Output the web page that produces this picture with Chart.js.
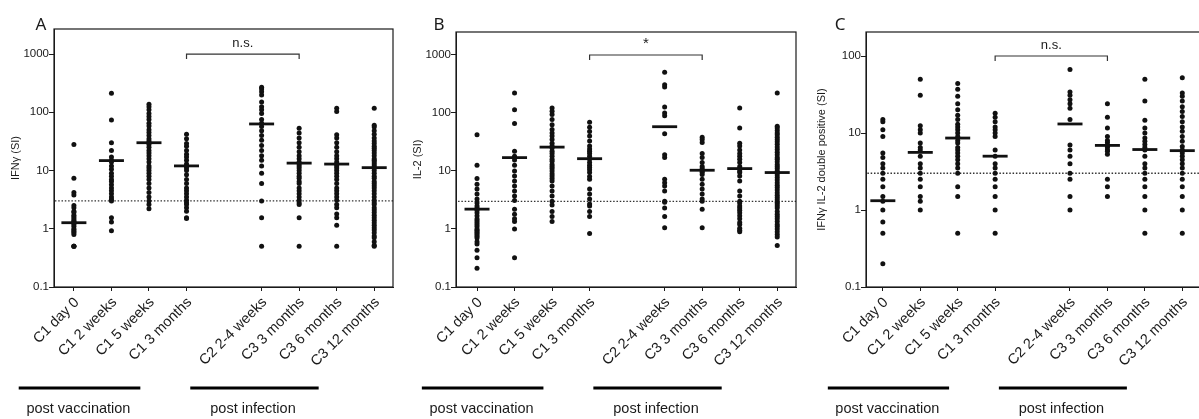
<!DOCTYPE html>
<html>
<head>
<meta charset="utf-8">
<script src="https://cdn.jsdelivr.net/npm/chart.js@4.4.1/dist/chart.umd.min.js"></script>
<style>
html, body { margin: 0; padding: 0; background: #fff; overflow: hidden; width: 1199px; height: 419px; }
canvas { position: absolute; top: 0; }
</style>
</head>
<body>
<canvas id="panelA" width="400" height="419" style="left:0px"></canvas>
<canvas id="panelB" width="400" height="419" style="left:400px"></canvas>
<canvas id="panelC" width="410" height="419" style="left:800px"></canvas>
<script>
// time points, the same on all three panels
const categories = ['C1 day 0', 'C1 2 weeks', 'C1 5 weeks', 'C1 3 months',
  'C2 2-4 weeks', 'C3 3 months', 'C3 6 months', 'C3 12 months'];

// A - IFNg (SI)
const ifngValues = [
  [28, 7.4, 4.2, 3.8, 2.5, 2.3, 2.0, 1.9, 1.7, 1.6, 1.5, 1.4, 1.3, 1.3, 1.2, 1.1, 1.0, 0.95, 0.9, 0.85, 0.8, 0.5, 0.5, 0.5],
  [212, 74, 30, 22, 17, 15, 14, 12, 10.5, 9, 8, 7, 6.5, 5.7, 5, 4.5, 4, 3.5, 3.2, 3.0, 1.55, 1.3, 0.92],
  [137, 125, 110, 95, 85, 75, 65, 58, 50, 45, 40, 35, 32, 30, 28, 25, 22, 20, 18, 16, 14, 12, 11, 10, 9, 8, 7, 6, 5, 4.2, 3.5, 3.0, 2.6, 2.2],
  [42, 35, 29, 26, 22, 19, 17, 15, 13, 12, 11, 10, 8.5, 7, 6, 5, 4.5, 4, 3.5, 3.1, 2.8, 2.6, 2.3, 2.0, 1.55, 1.5],
  [268, 250, 225, 198, 150, 125, 110, 95, 75, 65, 57, 48, 40, 33, 27, 22, 18, 15, 12, 9, 6, 3.0, 1.55, 0.5],
  [53, 44, 36, 30, 25, 21, 18, 16, 14, 13, 12, 11, 10, 9, 8, 7.4, 6.5, 6, 5, 4.5, 4, 3.5, 3.1, 2.8, 2.6, 1.55, 0.5],
  [117, 103, 41, 36, 30, 25, 21, 18, 16, 14, 13, 12, 11, 10, 9, 8, 7, 6, 5, 4.5, 4, 3.5, 3.1, 2.6, 2.3, 1.8, 1.55, 1.15, 0.5],
  [117, 60, 56, 48, 42, 36, 32, 29, 26, 24, 22, 20, 18, 16, 15, 14, 13, 12, 11, 10, 9, 8, 7.4, 6.5, 6, 5.5, 5, 4.5, 4, 3.5, 3.1, 2.8, 2.6, 2.3, 2.1, 1.9, 1.7, 1.55, 1.4, 1.27, 1.15, 1.04, 0.95, 0.85, 0.75, 0.7, 0.6, 0.52, 0.5]
];
const ifngMedians = [1.27, 14.8, 30, 12, 63, 13.4, 12.9, 11.2];

// B - IL-2 (SI)
const il2Values = [
  [42, 12.5, 7.4, 5.9, 4.9, 4.0, 3.3, 2.8, 2.5, 2.3, 2.1, 1.9, 1.7, 1.5, 1.4, 1.3, 1.2, 1.1, 1.0, 0.95, 0.9, 0.85, 0.8, 0.75, 0.7, 0.6, 0.55, 0.43, 0.32, 0.21],
  [220, 114, 66, 22, 18, 15.5, 12.5, 10, 8.2, 6.7, 5.5, 4.5, 3.7, 3.1, 2.2, 1.8, 1.5, 1.35, 1.0, 0.32],
  [122, 107, 94, 77, 63, 52, 45, 40, 35, 30, 27, 25, 22, 20, 18, 16, 14.7, 13, 12, 11, 10, 9, 8.2, 7.4, 6.7, 5.5, 4.5, 3.7, 3.0, 2.6, 2.0, 1.65, 1.35],
  [69, 57, 48, 40, 33, 27, 24, 22, 20, 18, 16, 14, 12.5, 11.5, 10.5, 9.4, 8, 7.2, 4.9, 4.0, 3.3, 2.7, 2.5, 2.0, 1.65, 0.84],
  [505, 306, 280, 127, 100, 90, 44, 19, 17, 7.2, 6.3, 5.5, 4.5, 3.0, 2.9, 2.3, 1.65, 1.05],
  [38, 35, 31, 20, 17, 14, 12, 11, 10, 9.5, 8.7, 7.2, 5.9, 4.9, 4.0, 3.3, 3.0, 2.2, 1.05],
  [122, 55, 30, 27, 23, 20, 18, 16, 14, 12, 11, 10, 9.4, 8.2, 6.7, 4.5, 3.7, 3.0, 2.8, 2.5, 2.3, 2.1, 1.9, 1.7, 1.5, 1.3, 1.2, 1.03, 0.95, 0.9],
  [220, 59, 55, 50, 45, 42, 38, 35, 32, 29, 26, 23.5, 21, 19, 17, 16, 14.5, 13, 12, 11, 10, 9.4, 8.5, 7.7, 7, 6.3, 5.7, 5.2, 4.7, 4.2, 3.8, 3.5, 3.2, 2.9, 2.7, 2.5, 2.3, 2.0, 1.8, 1.65, 1.5, 1.35, 1.2, 1.1, 1.0, 0.9, 0.8, 0.73, 0.52]
];
const il2Medians = [2.2, 17, 25.8, 16.3, 58, 10.3, 11, 9.4];

// C - IFNg / IL-2 double positive (SI)
const dpValues = [
  [15, 14, 11, 9, 5.5, 4.8, 4, 3.5, 3, 2.5, 2, 1.5, 1.3, 1, 0.7, 0.5, 0.2],
  [50, 31, 12.4, 11, 10, 7.4, 6.5, 6, 5, 4, 3.5, 3, 2.5, 2, 1.5, 1.3, 1.0],
  [44, 37, 30, 24, 20, 17, 15, 13, 12, 11, 10, 9, 8, 7.4, 6.5, 6, 5.5, 5, 4.5, 4, 3.5, 3, 2, 1.5, 0.5],
  [18, 16, 14, 12, 11, 10, 9, 6, 5, 4, 3.5, 3, 2.5, 2, 1.5, 1.0, 0.5],
  [67, 34, 31, 27, 24, 21, 15, 7, 6, 5, 4, 3, 2.5, 1.5, 1.0],
  [24, 16, 11.6, 9, 8, 7.5, 7, 6.8, 6.5, 6, 5.8, 5.3, 2.5, 2, 1.5],
  [50, 26, 14.6, 11.6, 10, 8.6, 7.8, 7.1, 6.5, 6, 5, 4, 3.5, 3, 2.5, 2, 1.5, 1, 0.5],
  [52, 33, 30, 26, 22, 19, 16.4, 14, 12, 10.5, 9, 7.8, 6.7, 6, 5.5, 5, 4.5, 4, 3.5, 3, 2.5, 2, 1.5, 1, 0.5]
];
const dpMedians = [1.32, 5.6, 8.6, 5.0, 13.1, 6.9, 6.1, 5.9];

const yTicksWide = [0.1, 1, 10, 100, 1000];
const yTicksNarrow = [0.1, 1, 10, 100];
const cutoff = 3;

const FONT = '"Liberation Sans", Arial, sans-serif';
const INK = '#1a1a1a';

// empty slot between vaccination and infection time points
const xPos = i => (i < 4 ? i : i + 1);

const decor = {
  id: 'decor',
  afterDraw(chart, args, o) {
    const ctx = chart.ctx, ca = chart.chartArea;
    const xs = chart.scales.x, ys = chart.scales.y;
    ctx.save();
    // frame
    ctx.strokeStyle = INK;
    ctx.lineWidth = 1.2;
    ctx.strokeRect(ca.left, ca.top, ca.right - ca.left, ca.bottom - ca.top);
    // panel letter
    ctx.fillStyle = INK;
    ctx.font = '17px "Noto Sans", sans-serif';
    ctx.textAlign = 'center';
    ctx.textBaseline = 'middle';
    ctx.fillText(o.letter, o.letterX, 25);
    // significance bracket
    const b = o.bracket;
    const x1 = xs.getPixelForValue(xPos(b.from));
    const x2 = xs.getPixelForValue(xPos(b.to));
    const by = ys.getPixelForValue(b.level);
    ctx.strokeStyle = '#333';
    ctx.lineWidth = 1.2;
    ctx.beginPath();
    ctx.moveTo(x1, by + 5); ctx.lineTo(x1, by); ctx.lineTo(x2, by); ctx.lineTo(x2, by + 5);
    ctx.stroke();
    ctx.font = b.label === '*' ? '15px ' + FONT : '13px ' + FONT;
    ctx.fillText(b.label, (x1 + x2) / 2, by - 11);
    // group underlines
    ctx.strokeStyle = '#000';
    ctx.lineWidth = 2.8;
    ctx.font = '14.5px ' + FONT;
    o.groups.forEach(g => {
      ctx.beginPath();
      ctx.moveTo(xs.getPixelForValue(g.span[0]), 388);
      ctx.lineTo(xs.getPixelForValue(g.span[1]), 388);
      ctx.stroke();
      ctx.fillText(g.label, xs.getPixelForValue(g.center), 409);
    });
    ctx.restore();
  }
};

const groups = [
  { label: 'post vaccination', span: [-1.47, 1.77], center: 0.12 },
  { label: 'post infection', span: [3.1, 6.52], center: 4.77 }
];

function makePanel(id, p) {
  const dots = p.values.flatMap((arr, i) => arr.map(v => ({ x: xPos(i), y: v })));
  const meds = p.medians.map((m, i) => ({ x: xPos(i), y: m }));
  return new Chart(document.getElementById(id), {
    type: 'scatter',
    data: {
      datasets: [
        { data: [{ x: -2, y: cutoff }, { x: 10, y: cutoff }], showLine: true, pointRadius: 0,
          borderColor: '#333', borderWidth: 1.3, borderDash: [1.5, 1.8], order: 3 },
        { data: dots, pointRadius: 2.5, pointBackgroundColor: '#111', pointBorderWidth: 0, order: 2 },
        { data: meds, pointStyle: 'line', pointRadius: 12.5, pointBorderWidth: 2.8,
          pointBorderColor: '#111', order: 1 }
      ]
    },
    options: {
      responsive: false,
      animation: false,
      devicePixelRatio: 1,
      events: [],
      layout: { autoPadding: false, padding: { left: 0, right: p.padRight, top: p.padTop, bottom: 0 } },
      plugins: {
        legend: { display: false },
        tooltip: { enabled: false },
        decor: { letter: p.letter, letterX: p.letterX, bracket: p.bracket, groups: groups }
      },
      scales: {
        x: {
          type: 'linear', min: p.xMin, max: 8.5,
          afterBuildTicks: ax => { ax.ticks = categories.map((c, i) => ({ value: xPos(i) })); },
          afterFit: s => { s.height = 132; s.paddingLeft = 0; s.paddingRight = 0; },
          ticks: { autoSkip: false, minRotation: 45, maxRotation: 45, padding: 3, labelOffset: 3,
            color: INK, font: { family: FONT, size: 14.5 },
            callback: (v, i) => categories[i] },
          grid: { drawOnChartArea: false, tickLength: 4, tickColor: INK },
          border: { color: INK }
        },
        y: {
          type: 'logarithmic', min: 0.1, max: p.yMax,
          afterBuildTicks: ax => { ax.ticks = p.yTicks.map(v => ({ value: v })); },
          afterFit: s => { s.width = p.yWidth; s.paddingTop = 0; s.paddingBottom = 0; },
          ticks: { padding: 0, color: INK, font: { family: FONT, size: 11.5 }, callback: v => String(v) },
          grid: { drawOnChartArea: false, tickLength: 5, tickColor: INK },
          border: { color: INK },
          title: { display: true, text: p.yTitle, color: INK, font: { family: FONT, size: 11 },
            padding: { top: p.titlePad, bottom: 0 } }
        }
      }
    },
    plugins: [decor]
  });
}

makePanel('panelA', { values: ifngValues, medians: ifngMedians, yTicks: yTicksWide, yMax: 2690,
  yTitle: 'IFNγ (SI)', yWidth: 54, padRight: 7, padTop: 29, xMin: -0.53, titlePad: 9.5,
  letter: 'A', letterX: 41, bracket: { from: 3, to: 5, level: 1000, label: 'n.s.' } });

makePanel('panelB', { values: il2Values, medians: il2Medians, yTicks: yTicksWide, yMax: 2490,
  yTitle: 'IL-2 (SI)', yWidth: 56, padRight: 4, padTop: 32, xMin: -0.56, titlePad: 11.5,
  letter: 'B', letterX: 39, bracket: { from: 3, to: 5, level: 1000, label: '*' } });

makePanel('panelC', { values: dpValues, medians: dpMedians, yTicks: yTicksNarrow, yMax: 205,
  yTitle: 'IFNγ IL-2 double positive (SI)', yWidth: 66, padRight: 9, padTop: 32, xMin: -0.45, titlePad: 15.5,
  letter: 'C', letterX: 40, bracket: { from: 3, to: 5, level: 100, label: 'n.s.' } });
</script>
</body>
</html>
